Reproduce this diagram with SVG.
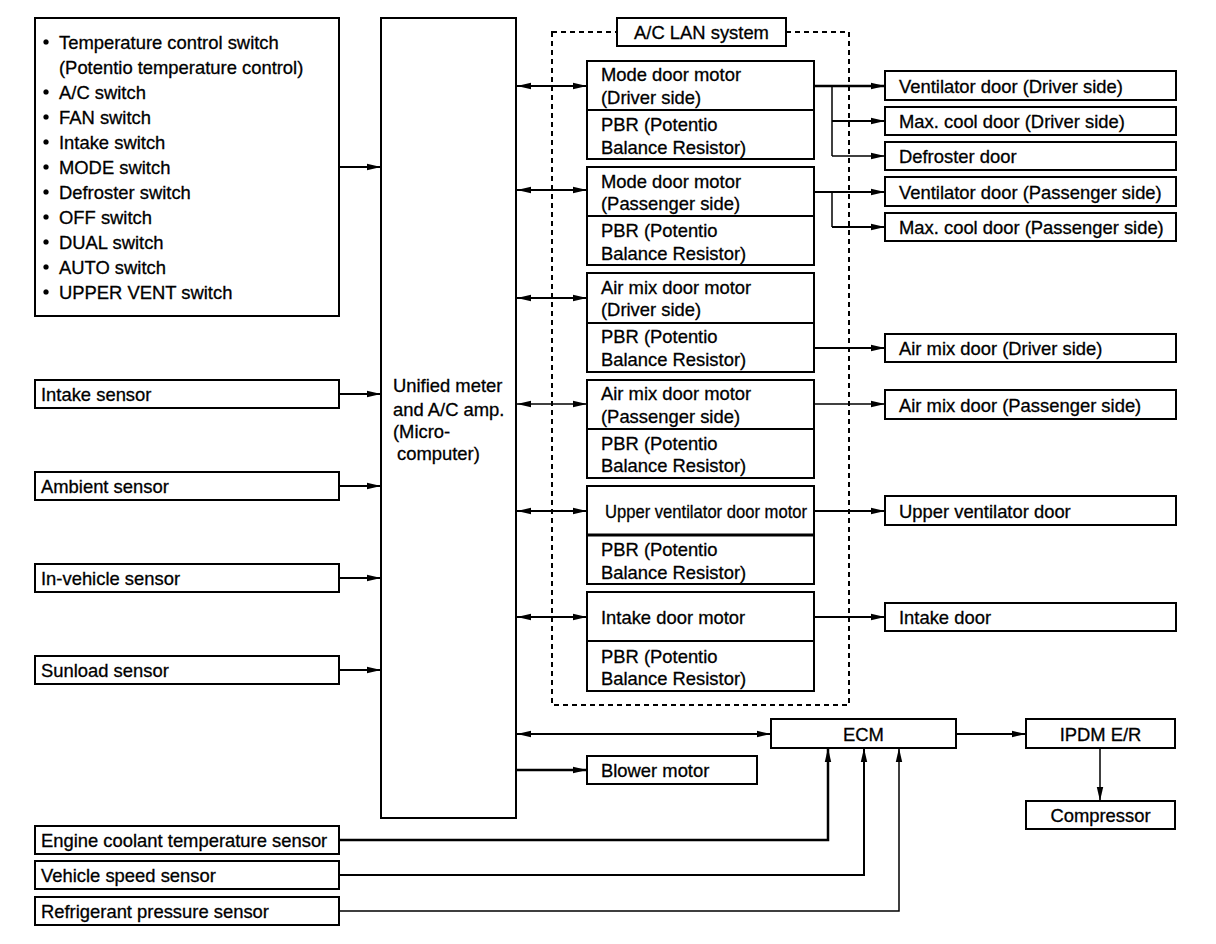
<svg xmlns="http://www.w3.org/2000/svg" width="1216" height="944" viewBox="0 0 1216 944">
<style>
.b{fill:#fff;stroke:#000;stroke-width:2}
.t{font-family:"Liberation Sans",Arial,sans-serif;font-size:18.4px;fill:#000;stroke:#000;stroke-width:0.3}
.c{fill:none;stroke:#000;stroke-width:2}
.tn{fill:none;stroke:#000;stroke-width:1.5}
.a{marker-end:url(#ah)}
.d{marker-start:url(#ahs);marker-end:url(#ah)}
</style>
<defs>
<marker id="ah" markerUnits="userSpaceOnUse" markerWidth="16" markerHeight="10" refX="14" refY="5" orient="auto">
<path d="M0,5 L14,1.8 L14,8.2 Z" fill="#000" transform="rotate(180 7 5)"/>
</marker>
<marker id="ahs" markerUnits="userSpaceOnUse" markerWidth="16" markerHeight="10" refX="0" refY="5" orient="auto">
<path d="M0,5 L14,1.8 L14,8.2 Z" fill="#000"/>
</marker>
</defs>
<rect width="1216" height="944" fill="#fff"/>

<g id="switches">
<rect class="b" x="35" y="18" width="304" height="298"/>
<g class="t">
<circle cx="46" cy="42" r="2.5"/><text x="59" y="49">Temperature control switch</text>
<text x="59" y="74">(Potentio temperature control)</text>
<circle cx="46" cy="92" r="2.5"/><text x="59" y="99">A/C switch</text>
<circle cx="46" cy="117" r="2.5"/><text x="59" y="124">FAN switch</text>
<circle cx="46" cy="142" r="2.5"/><text x="59" y="149">Intake switch</text>
<circle cx="46" cy="167" r="2.5"/><text x="59" y="174">MODE switch</text>
<circle cx="46" cy="192" r="2.5"/><text x="59" y="199">Defroster switch</text>
<circle cx="46" cy="217" r="2.5"/><text x="59" y="224">OFF switch</text>
<circle cx="46" cy="242" r="2.5"/><text x="59" y="249">DUAL switch</text>
<circle cx="46" cy="267" r="2.5"/><text x="59" y="274">AUTO switch</text>
<circle cx="46" cy="292" r="2.5"/><text x="59" y="299">UPPER VENT switch</text>
</g>
</g>

<g id="intake-sensor"><rect class="b" x="35" y="380" width="304" height="28"/><text class="t" x="41" y="401">Intake sensor</text></g>
<g id="ambient-sensor"><rect class="b" x="35" y="472" width="304" height="28"/><text class="t" x="41" y="493">Ambient sensor</text></g>
<g id="invehicle-sensor"><rect class="b" x="35" y="564" width="304" height="28"/><text class="t" x="41" y="585">In-vehicle sensor</text></g>
<g id="sunload-sensor"><rect class="b" x="35" y="656" width="304" height="28"/><text class="t" x="41" y="677">Sunload sensor</text></g>
<g id="ect-sensor"><rect class="b" x="35" y="826" width="304" height="28"/><text class="t" x="41" y="847">Engine coolant temperature sensor</text></g>
<g id="speed-sensor"><rect class="b" x="35" y="861" width="304" height="28"/><text class="t" x="41" y="882">Vehicle speed sensor</text></g>
<g id="refrig-sensor"><rect class="b" x="35" y="897" width="304" height="28"/><text class="t" x="41" y="918">Refrigerant pressure sensor</text></g>

<g id="unified-meter">
<rect class="b" x="381" y="18" width="135" height="800"/>
<text class="t" x="393" y="392">Unified meter</text>
<text class="t" x="393" y="416">and A/C amp.</text>
<text class="t" x="393" y="438">(Micro-</text>
<text class="t" x="397" y="460">computer)</text>
</g>

<g id="ac-lan">
<rect x="552" y="32" width="297" height="673" fill="none" stroke="#000" stroke-width="2" stroke-dasharray="5,4"/>
<rect class="b" x="617" y="18" width="169" height="28"/>
<text class="t" x="701.5" y="39" text-anchor="middle">A/C LAN system</text>
</g>

<g id="mode-driver">
<rect class="b" x="587" y="61" width="227" height="98"/><line class="c" x1="587" y1="110" x2="814" y2="110"/>
<text class="t" x="601" y="81">Mode door motor</text><text class="t" x="601" y="104">(Driver side)</text>
<text class="t" x="601" y="131">PBR (Potentio</text><text class="t" x="601" y="154">Balance Resistor)</text>
</g>
<g id="mode-passenger">
<rect class="b" x="587" y="167" width="227" height="98"/><line class="c" x1="587" y1="216" x2="814" y2="216"/>
<text class="t" x="601" y="188">Mode door motor</text><text class="t" x="601" y="210">(Passenger side)</text>
<text class="t" x="601" y="237">PBR (Potentio</text><text class="t" x="601" y="260">Balance Resistor)</text>
</g>
<g id="airmix-driver">
<rect class="b" x="587" y="273" width="227" height="99"/><line class="c" x1="587" y1="323" x2="814" y2="323"/>
<text class="t" x="601" y="294">Air mix door motor</text><text class="t" x="601" y="316">(Driver side)</text>
<text class="t" x="601" y="343">PBR (Potentio</text><text class="t" x="601" y="366">Balance Resistor)</text>
</g>
<g id="airmix-passenger">
<rect class="b" x="587" y="380" width="227" height="98"/><line class="c" x1="587" y1="429" x2="814" y2="429"/>
<text class="t" x="601" y="400">Air mix door motor</text><text class="t" x="601" y="423">(Passenger side)</text>
<text class="t" x="601" y="450">PBR (Potentio</text><text class="t" x="601" y="472">Balance Resistor)</text>
</g>
<g id="upper-vent-motor">
<rect class="b" x="587" y="486" width="227" height="98"/><line x1="587" y1="535" x2="814" y2="535" stroke="#000" stroke-width="3"/>
<text class="t" x="706" y="518" text-anchor="middle" textLength="202" lengthAdjust="spacingAndGlyphs">Upper ventilator door motor</text>
<text class="t" x="601" y="556">PBR (Potentio</text><text class="t" x="601" y="579">Balance Resistor)</text>
</g>
<g id="intake-motor">
<rect class="b" x="587" y="592" width="227" height="99"/><line class="c" x1="587" y1="641" x2="814" y2="641"/>
<text class="t" x="601" y="624">Intake door motor</text>
<text class="t" x="601" y="663">PBR (Potentio</text><text class="t" x="601" y="685">Balance Resistor)</text>
</g>

<g id="vent-driver"><rect class="b" x="885" y="71" width="291" height="29"/><text class="t" x="899" y="93">Ventilator door (Driver side)</text></g>
<g id="maxcool-driver"><rect class="b" x="885" y="107" width="291" height="28"/><text class="t" x="899" y="128">Max. cool door (Driver side)</text></g>
<g id="defroster-door"><rect class="b" x="885" y="142" width="291" height="28"/><text class="t" x="899" y="163">Defroster door</text></g>
<g id="vent-passenger"><rect class="b" x="885" y="177" width="291" height="29"/><text class="t" x="899" y="199">Ventilator door (Passenger side)</text></g>
<g id="maxcool-passenger"><rect class="b" x="885" y="213" width="291" height="28"/><text class="t" x="899" y="234">Max. cool door (Passenger side)</text></g>
<g id="airmix-door-driver"><rect class="b" x="885" y="334" width="291" height="28"/><text class="t" x="899" y="355">Air mix door (Driver side)</text></g>
<g id="airmix-door-passenger"><rect class="b" x="885" y="390" width="291" height="29"/><text class="t" x="899" y="412">Air mix door (Passenger side)</text></g>
<g id="upper-vent-door"><rect class="b" x="885" y="496" width="291" height="29"/><text class="t" x="899" y="518">Upper ventilator door</text></g>
<g id="intake-door"><rect class="b" x="885" y="603" width="291" height="28"/><text class="t" x="899" y="624">Intake door</text></g>

<g id="ecm"><rect class="b" x="771" y="719" width="185" height="29"/><text class="t" x="863.5" y="741" text-anchor="middle">ECM</text></g>
<g id="blower"><rect class="b" x="587" y="756" width="170" height="28"/><text class="t" x="601" y="777">Blower motor</text></g>
<g id="ipdm"><rect class="b" x="1026" y="719" width="149" height="29"/><text class="t" x="1100.5" y="741" text-anchor="middle">IPDM E/R</text></g>
<g id="compressor"><rect class="b" x="1026" y="801" width="149" height="28"/><text class="t" x="1100.5" y="822" text-anchor="middle">Compressor</text></g>

<g id="connectors">
<line class="c a" x1="339" y1="167" x2="381" y2="167"/>
<line class="c a" x1="339" y1="394" x2="381" y2="394"/>
<line class="c a" x1="339" y1="486" x2="381" y2="486"/>
<line class="c a" x1="339" y1="578" x2="381" y2="578"/>
<line class="c a" x1="339" y1="670" x2="381" y2="670"/>

<line class="c d" x1="517" y1="86" x2="587" y2="86"/>
<line class="c d" x1="517" y1="190" x2="587" y2="190"/>
<line class="c d" x1="517" y1="298" x2="587" y2="298"/>
<line class="tn d" x1="517" y1="404" x2="587" y2="404"/>
<line class="c d" x1="517" y1="511" x2="587" y2="511"/>
<line class="c d" x1="517" y1="617" x2="587" y2="617"/>
<line class="c d" x1="517" y1="734" x2="771" y2="734"/>
<line x1="517" y1="770" x2="587" y2="770" stroke="#000" stroke-width="2.5" marker-end="url(#ah)"/>

<line x1="814" y1="86" x2="885" y2="86" stroke="#000" stroke-width="2.5" marker-end="url(#ah)"/>
<path class="tn" d="M832,86 V156"/>
<line class="c a" x1="832" y1="121" x2="885" y2="121"/>
<line class="tn a" x1="832" y1="156" x2="885" y2="156"/>
<line class="c a" x1="814" y1="192" x2="885" y2="192"/>
<path class="tn" d="M832,192 V227"/>
<line class="c a" x1="832" y1="227" x2="885" y2="227"/>
<line class="c a" x1="814" y1="348" x2="885" y2="348"/>
<line class="tn a" x1="814" y1="404" x2="885" y2="404"/>
<line class="c a" x1="814" y1="511" x2="885" y2="511"/>
<line class="c a" x1="814" y1="617" x2="885" y2="617"/>

<line class="c a" x1="956" y1="734" x2="1026" y2="734"/>
<line class="tn a" x1="1100" y1="748" x2="1100" y2="801"/>

<path d="M339,840 H828 V748" fill="none" stroke="#000" stroke-width="2.5" marker-end="url(#ah)"/>
<path class="c a" d="M339,875 H864 V748"/>
<path class="tn a" d="M339,911 H899 V748"/>
</g>
</svg>
